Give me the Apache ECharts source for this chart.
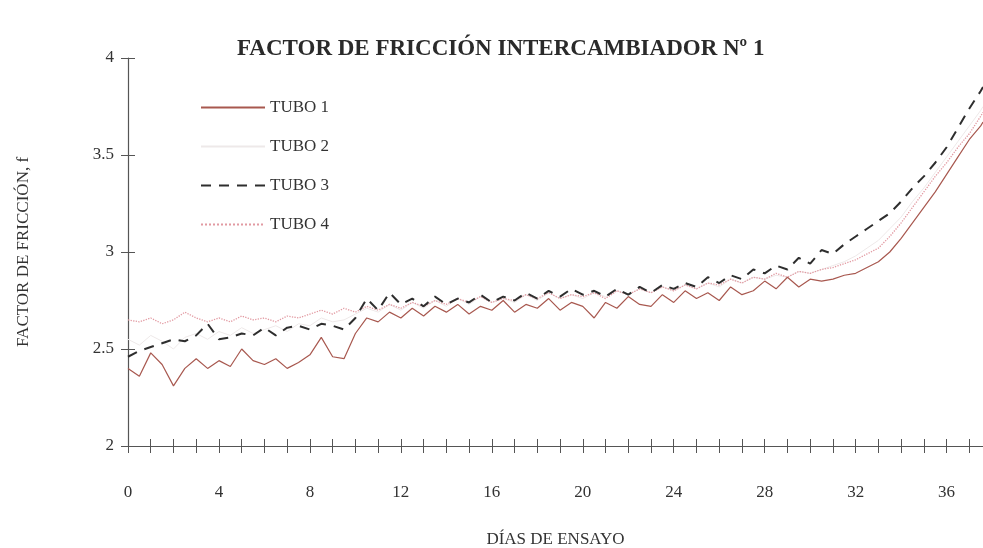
<!DOCTYPE html>
<html>
<head>
<meta charset="utf-8">
<script src="https://cdn.jsdelivr.net/npm/echarts@6/dist/echarts.min.js"></script>
<style>
  html, body { margin: 0; padding: 0; background: #fff; }
  #chart { width: 983px; height: 548px; }
</style>
</head>
<body>
<div id="chart"></div>
<script>
// días de ensayo (eje x)
const days = [
  0, 0.5, 1, 1.5, 2, 2.5, 3, 3.5, 4, 4.5,
  5, 5.5, 6, 6.5, 7, 7.5, 8, 8.5, 9, 9.5,
  10, 10.5, 11, 11.5, 12, 12.5, 13, 13.5, 14, 14.5,
  15, 15.5, 16, 16.5, 17, 17.5, 18, 18.5, 19, 19.5,
  20, 20.5, 21, 21.5, 22, 22.5, 23, 23.5, 24, 24.5,
  25, 25.5, 26, 26.5, 27, 27.5, 28, 28.5, 29, 29.5,
  30, 30.5, 31, 31.5, 32, 32.5, 33, 33.5, 34, 34.5,
  35, 35.5, 36, 36.5, 37, 37.5, 37.6
];

const tubo1 = [
  2.40, 2.36, 2.48, 2.42, 2.31, 2.40, 2.45, 2.40, 2.44, 2.41,
  2.50, 2.44, 2.42, 2.45, 2.40, 2.43, 2.47, 2.56, 2.46, 2.45,
  2.58, 2.66, 2.64, 2.69, 2.66, 2.71, 2.67, 2.72, 2.69, 2.73,
  2.68, 2.72, 2.70, 2.75, 2.69, 2.73, 2.71, 2.76, 2.70, 2.74,
  2.72, 2.66, 2.74, 2.71, 2.77, 2.73, 2.72, 2.78, 2.74, 2.80,
  2.76, 2.79, 2.75, 2.82, 2.78, 2.80, 2.85, 2.81, 2.87, 2.82,
  2.86, 2.85, 2.86, 2.88, 2.89, 2.92, 2.95, 3.00, 3.07, 3.15,
  3.23, 3.31, 3.40, 3.49, 3.58, 3.65, 3.67
];

const tubo2 = [
  2.55, 2.52, 2.57, 2.54, 2.50, 2.56, 2.58, 2.55, 2.59, 2.57,
  2.61, 2.58, 2.60, 2.62, 2.59, 2.63, 2.62, 2.66, 2.64, 2.65,
  2.68, 2.71, 2.69, 2.73, 2.70, 2.74, 2.71, 2.75, 2.72, 2.76,
  2.73, 2.77, 2.74, 2.76, 2.74, 2.78, 2.75, 2.79, 2.76, 2.78,
  2.76, 2.79, 2.77, 2.80, 2.78, 2.81, 2.79, 2.82, 2.80, 2.83,
  2.81, 2.84, 2.82, 2.86, 2.84, 2.87, 2.86, 2.88, 2.87, 2.90,
  2.89, 2.91, 2.93, 2.95, 2.98, 3.02, 3.06, 3.12, 3.18, 3.26,
  3.33, 3.41, 3.49, 3.57, 3.65, 3.73, 3.75
];

const tubo3 = [
  2.46, 2.49, 2.51, 2.53, 2.55, 2.54, 2.57, 2.63, 2.55, 2.56,
  2.58, 2.57, 2.61, 2.57, 2.61, 2.62, 2.60, 2.63, 2.62, 2.60,
  2.66, 2.76, 2.70, 2.79, 2.73, 2.76, 2.72, 2.77, 2.73, 2.76,
  2.74, 2.78, 2.74, 2.77, 2.75, 2.79, 2.76, 2.80, 2.77, 2.81,
  2.78, 2.80, 2.77, 2.81, 2.78, 2.82, 2.79, 2.83, 2.81, 2.84,
  2.82, 2.87, 2.84, 2.88, 2.86, 2.91, 2.89, 2.93, 2.91, 2.97,
  2.94, 3.01, 2.99, 3.04, 3.08, 3.12, 3.16, 3.20, 3.26, 3.33,
  3.39, 3.46, 3.54, 3.64, 3.74, 3.83, 3.85
];

const tubo4 = [
  2.65, 2.64, 2.66, 2.63, 2.65, 2.69, 2.66, 2.64, 2.66, 2.64,
  2.67, 2.65, 2.66, 2.64, 2.67, 2.66, 2.68, 2.70, 2.68, 2.71,
  2.69, 2.72, 2.70, 2.73, 2.71, 2.74, 2.72, 2.75, 2.73, 2.76,
  2.74, 2.77, 2.74, 2.76, 2.75, 2.78, 2.76, 2.79, 2.76, 2.78,
  2.77, 2.79, 2.76, 2.80, 2.78, 2.81, 2.79, 2.82, 2.80, 2.83,
  2.81, 2.84, 2.83, 2.86, 2.84, 2.87, 2.86, 2.89, 2.87, 2.90,
  2.89, 2.91, 2.92, 2.94, 2.96, 2.99, 3.02, 3.08, 3.15, 3.23,
  3.31, 3.39, 3.46, 3.54, 3.61, 3.70, 3.72
];

const serieNames = ['TUBO 1', 'TUBO 2', 'TUBO 3', 'TUBO 4'];

function pairs(values) {
  return days.map(function (d, i) { return [d, values[i]]; });
}

const chart = echarts.init(document.getElementById('chart'), null, { renderer: 'canvas' });

const font = 'Liberation Serif';
const axisColor = '#555';

const option = {
  backgroundColor: '#fff',
  animation: false,
  title: {
    text: 'FACTOR DE FRICCIÓN INTERCAMBIADOR Nº 1',
    left: 232,
    top: 33,
    textStyle: {
      fontFamily: font,
      fontSize: 23,
      fontWeight: 'bold',
      color: '#2a2a2a'
    }
  },
  legend: {
    data: serieNames,
    orient: 'vertical',
    left: 195,
    top: 94,
    itemWidth: 64,
    itemHeight: 14,
    itemGap: 22,
    itemStyle: { opacity: 0 },
    textStyle: { fontFamily: font, fontSize: 17, color: '#333' }
  },
  grid: { left: 128, right: 0, top: 58, bottom: 102, containLabel: false, outerBoundsMode: 'none' },
  xAxis: [{
    type: 'value',
    min: 0,
    max: 37.6,
    interval: 1,
    position: 'bottom',
    axisLine: { lineStyle: { color: axisColor, width: 1.2 } },
    axisTick: { length: 7, lineStyle: { color: axisColor } },
    splitLine: { show: false },
    axisLabel: {
      margin: 38,
      fontFamily: font,
      fontSize: 17,
      color: '#333',
      formatter: function (v) { return (v % 4 === 0) ? String(v) : ''; }
    },
    name: 'DÍAS DE ENSAYO',
    nameLocation: 'middle',
    nameGap: 85,
    nameTextStyle: { fontFamily: font, fontSize: 17, color: '#333' }
  }, {
    type: 'value',
    min: 0,
    max: 37.6,
    interval: 1,
    position: 'bottom',
    axisLine: { show: false },
    axisTick: { inside: true, length: 7, lineStyle: { color: axisColor } },
    axisLabel: { show: false },
    splitLine: { show: false }
  }],
  yAxis: [{
    type: 'value',
    min: 2,
    max: 4,
    interval: 0.5,
    position: 'left',
    axisLine: { show: true, lineStyle: { color: axisColor, width: 1.2 } },
    axisTick: { show: true, length: 7, lineStyle: { color: axisColor } },
    splitLine: { show: false },
    axisLabel: { margin: 14, fontFamily: font, fontSize: 17, color: '#333' },
    name: 'FACTOR DE FRICCIÓN, f',
    nameLocation: 'middle',
    nameGap: 96,
    nameTextStyle: { fontFamily: font, fontSize: 17, color: '#333' }
  }, {
    type: 'value',
    min: 2,
    max: 4,
    interval: 0.5,
    position: 'left',
    axisLine: { show: false },
    axisTick: { show: true, inside: true, length: 7, lineStyle: { color: axisColor } },
    axisLabel: { show: false },
    splitLine: { show: false }
  }],
  series: [{
    name: 'TUBO 1',
    type: 'line',
    symbol: 'none',
    data: pairs(tubo1),
    lineStyle: { color: '#a8584f', width: 1.2 },
    itemStyle: { color: '#a8584f' },
    z: 4
  }, {
    name: 'TUBO 2',
    type: 'line',
    symbol: 'none',
    data: pairs(tubo2),
    lineStyle: { color: '#eee9e9', width: 1 },
    itemStyle: { color: '#eee9e9' },
    z: 1
  }, {
    name: 'TUBO 3',
    type: 'line',
    symbol: 'none',
    data: pairs(tubo3),
    lineStyle: { color: '#2e2e2e', width: 2, type: [10, 8] },
    itemStyle: { color: '#2e2e2e' },
    z: 3
  }, {
    name: 'TUBO 4',
    type: 'line',
    symbol: 'none',
    data: pairs(tubo4),
    lineStyle: { color: '#e29aa2', width: 1.3, type: 'dotted' },
    itemStyle: { color: '#e29aa2' },
    z: 2
  }]
};

chart.setOption(option);
</script>
</body>
</html>
